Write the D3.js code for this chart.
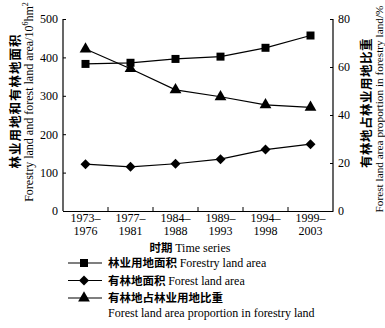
<!DOCTYPE html>
<html lang="zh">
<head>
<meta charset="UTF-8">
<title>Forestry land</title>
<script src="https://d3js.org/d3.v7.min.js"></script>
<style>
    body { margin: 0; background: #fff; }
    svg text { font-family: "Liberation Serif", serif; fill: #000; }
    .cn { font-family: "Noto Sans CJK SC", sans-serif; font-weight: bold; }
</style>
</head>
<body>
<div id="chart"></div>
<script>
// periods on the x axis (two-line labels)
const periods = ["1973–1976", "1977–1981", "1984–1988", "1989–1993", "1994–1998", "1999–2003"];
const periodTop = ["1973–", "1977–", "1984–", "1989–", "1994–", "1999–"];
const periodBottom = ["1976", "1981", "1988", "1993", "1998", "2003"];

// 10^6 hm2, left axis
const forestryLand = [383, 386, 396, 402, 425, 457];
const forestLand = [122, 115, 123, 135, 160, 174];
// %, right axis
const proportion = [67.5, 59.3, 50.5, 47.6, 44.2, 43.2];

const leftTicks = [0, 100, 200, 300, 400, 500];
const rightTicks = [0, 20, 40, 60, 80];

const W = 385, H = 328;
const margin = { top: 19, right: 52, bottom: 117, left: 63 };
const width = W - margin.left - margin.right,
      height = H - margin.top - margin.bottom;

const svg = d3.select("#chart").append("svg")
    .attr("width", W)
    .attr("height", H);

const g = svg.append("g")
    .attr("transform", `translate(${margin.left},${margin.top})`);

const x = d3.scaleBand().domain(periods).range([0, width]);
const yL = d3.scaleLinear().domain([0, 500]).range([height, 0]);
const yR = d3.scaleLinear().domain([0, 80]).range([height, 0]);

// axes
const axL = g.append("g")
    .call(d3.axisLeft(yL).tickValues(leftTicks).tickSize(-3).tickPadding(5));
const axR = g.append("g")
    .attr("transform", `translate(${width},0)`)
    .call(d3.axisRight(yR).tickValues(rightTicks).tickSize(-3).tickPadding(5));
const axB = g.append("g")
    .attr("transform", `translate(0,${height})`)
    .call(d3.axisBottom(x).tickSize(0).tickFormat(""));

// x ticks at band boundaries
g.selectAll(".bt")
    .data(periods.slice(1))
    .enter().append("line")
    .attr("x1", d => x(d)).attr("x2", d => x(d))
    .attr("y1", height).attr("y2", height - 4)
    .attr("stroke", "#000");

[axL, axR, axB].forEach(a => {
    a.selectAll(".domain").attr("stroke", "#000").attr("stroke-width", 1.2);
    a.selectAll(".tick line").attr("stroke", "#000");
    a.selectAll("text").style("font-family", "Liberation Serif").style("font-size", "12px");
});
axL.select(".domain").attr("d", `M0,${height}V0`);
axR.select(".domain").attr("d", `M0,${height}V0`);

// x tick labels, two lines
periods.forEach((p, i) => {
    const t = g.append("text")
        .attr("x", x(p) + x.bandwidth() / 2)
        .attr("y", height + 11)
        .attr("text-anchor", "middle")
        .style("font-size", "12px");
    t.append("tspan").attr("x", x(p) + x.bandwidth() / 2).text(periodTop[i]);
    t.append("tspan").attr("x", x(p) + x.bandwidth() / 2).attr("dy", 13).text(periodBottom[i]);
});

// x title
const xt = g.append("text")
    .attr("x", width / 2 - 8)
    .attr("y", height + 41)
    .attr("text-anchor", "middle")
    .style("font-size", "12px");
xt.append("tspan").attr("class", "cn").style("font-size", "11.5px").text("时期 ");
xt.append("tspan").text("Time series");

// left title
const lt = svg.append("g")
    .attr("transform", `translate(20,${margin.top + height / 2 - 14}) rotate(-90)`);
lt.append("text").attr("class", "cn").attr("text-anchor", "middle")
    .attr("y", 0).style("font-size", "12.5px").style("letter-spacing", "1px")
    .text("林业用地和有林地面积");
const lt2 = lt.append("text").attr("text-anchor", "middle")
    .attr("x", -1).attr("y", 13).style("font-size", "12px");
lt2.append("tspan").text("Forestry land and forest land area/10");
lt2.append("tspan").attr("dy", -5).style("font-size", "8px").text("6");
lt2.append("tspan").attr("dy", 5).text("hm");
lt2.append("tspan").attr("dy", -5).style("font-size", "8px").text("2");

// right title
const rt = svg.append("g")
    .attr("transform", `translate(371,${margin.top + height / 2 - 10}) rotate(-90)`);
rt.append("text").attr("class", "cn").attr("text-anchor", "middle")
    .attr("x", 2).attr("y", 0).style("font-size", "12.5px").style("letter-spacing", "0.5px")
    .text("有林地占林业用地比重");
rt.append("text").attr("text-anchor", "middle")
    .attr("x", -4).attr("y", 12).style("font-size", "11.3px")
    .text("Forest land area proportion in forestry land/%");

// series
const cx = i => x(periods[i]) + x.bandwidth() / 2;
const series = [
    { vals: forestryLand, y: yL, sym: d3.symbolSquare, size: 64, rot: 0 },
    { vals: forestLand, y: yL, sym: d3.symbolSquare, size: 50, rot: 45 },
    { vals: proportion, y: yR, sym: d3.symbolTriangle, size: 60, rot: 0 }
];

series.forEach(s => {
    const line = d3.line().x((d, i) => cx(i)).y(d => s.y(d));
    g.append("path")
        .datum(s.vals)
        .attr("d", line)
        .attr("fill", "none")
        .attr("stroke", "#000")
        .attr("stroke-width", 1.2);
    g.selectAll(null)
        .data(s.vals)
        .enter().append("path")
        .attr("d", d3.symbol().type(s.sym).size(s.size))
        .attr("transform", (d, i) => `translate(${cx(i)},${s.y(d)}) rotate(${s.rot})`)
        .attr("fill", "#000");
});

// legend
const legendCn = ["林业用地面积", "有林地面积", "有林地占林业用地比重"];
const legendEn = ["Forestry land area", "Forest land area", ""];
const leg = svg.append("g").attr("transform", "translate(68,263)");
series.forEach((s, i) => {
    const row = leg.append("g").attr("transform", `translate(0,${i * 17.5})`);
    row.append("line").attr("x1", 0).attr("x2", 34).attr("stroke", "#000").attr("stroke-width", 1.2);
    row.append("path").attr("d", d3.symbol().type(s.sym).size(s.size))
        .attr("transform", `translate(16,0) rotate(${s.rot})`);
    const t = row.append("text").attr("x", 40).attr("y", 4).style("font-size", "12px");
    t.append("tspan").attr("class", "cn").style("font-size", "11.5px").text(legendCn[i] + " ");
    t.append("tspan").text(legendEn[i]);
});
leg.append("text").attr("x", 40).attr("y", 54).style("font-size", "12px")
    .text("Forest land area proportion in forestry land");
</script>
</body>
</html>
